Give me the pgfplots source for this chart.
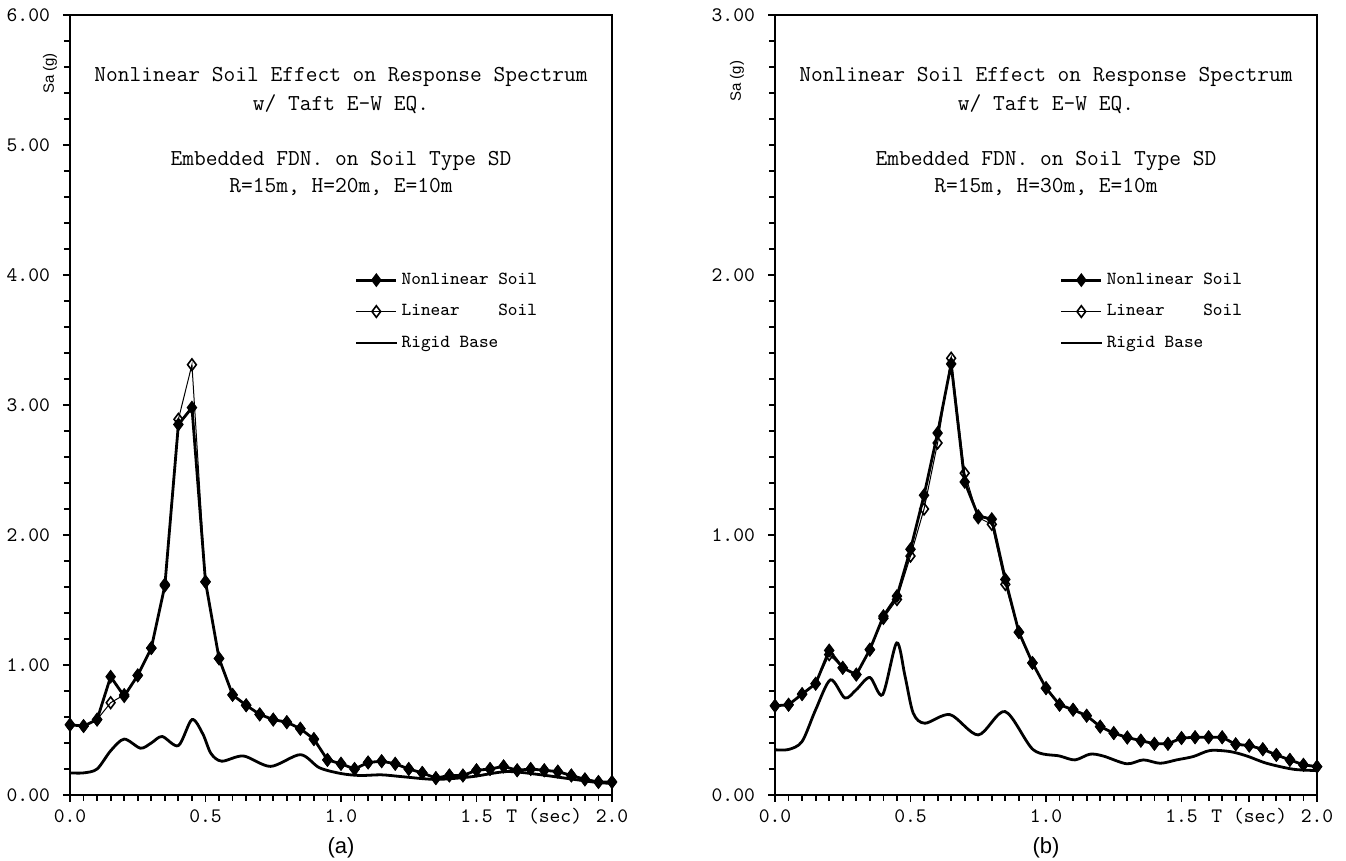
\documentclass[border=0pt]{standalone}
\usepackage{fontspec}
\newfontfamily\sansf{Liberation Sans}
\usepackage{pgfplots}
\pgfplotsset{compat=1.18}

\tikzset{
  nl/.style={black, line width=1.4pt, mark=diamond*, mark size=2.9pt,
    mark options={solid, fill=black, line width=0.8pt}},
  lin/.style={black, line width=0.5pt, mark=diamond, mark size=2.9pt,
    mark options={solid, fill=white, line width=0.8pt}},
  rb/.style={black, line width=1.4pt, smooth, mark=none},
}
\pgfplotsset{
  spec/.style={
    scale only axis, width=271pt, height=390pt,
    xmin=0, xmax=2, ymin=0,
    axis line style={line width=1.2pt},
    tick align=outside, tick pos=left,
    major tick length=3.5pt, minor tick length=3pt,
    every tick/.style={black, line width=0.9pt},
    xtick={0,0.5,1,1.5,1.75,2},
    xticklabels={0.0,0.5,1.0,1.5,T (sec),2.0},
    minor xtick={0,0.05,...,2.01},
    clip=false,
    tick label style={font=\ttfamily\fontsize{10.3}{11}\selectfont},
    xticklabel style={text height=1.6ex, text depth=0.4ex},
    yticklabel style={xshift=-3pt},
    legend image code/.code={\draw[mark repeat=2,mark phase=2,##1]
      plot coordinates {(0pt,0pt) (10pt,0pt) (20pt,0pt)};},
    legend style={draw=none, fill=none, at={(0.525,0.675)}, anchor=north west,
      font=\ttfamily\fontsize{9.2}{9.2}\selectfont, row sep=4.5pt, inner sep=0pt},
    legend cell align=left,
  }
}

\begin{document}
\begin{tikzpicture}
\path[use as bounding box] (0,0) rectangle (673pt,430.5pt);

% (a)
\begin{axis}[spec, at={(35pt,33pt)}, anchor=south west,
  ymax=6, ytick={0,1,2,3,4,5,6},
  yticklabels={0.00,1.00,2.00,3.00,4.00,5.00,6.00},
  minor y tick num=4]
\addlegendimage{nl}\addlegendentry{Nonlinear Soil}
\addlegendimage{lin}\addlegendentry{Linear\hphantom{xxxx}Soil}
\addlegendimage{rb}\addlegendentry{Rigid Base}
\addplot[lin, forget plot] coordinates {
(0.00,0.54)(0.05,0.53)(0.10,0.58)(0.15,0.71)(0.20,0.77)(0.25,0.92)(0.30,1.13)
(0.35,1.62)(0.40,2.89)(0.45,3.31)(0.50,1.64)(0.55,1.05)(0.60,0.77)(0.65,0.69)
(0.70,0.62)(0.75,0.58)(0.80,0.56)(0.85,0.51)(0.90,0.43)(0.95,0.27)(1.00,0.24)
(1.05,0.20)(1.10,0.25)(1.15,0.26)(1.20,0.24)(1.25,0.20)(1.30,0.17)(1.35,0.13)
(1.40,0.15)(1.45,0.15)(1.50,0.19)(1.55,0.20)(1.60,0.22)(1.65,0.19)(1.70,0.20)
(1.75,0.19)(1.80,0.18)(1.85,0.15)(1.90,0.12)(1.95,0.10)(2.00,0.10)};
\addplot[nl, forget plot] coordinates {
(0.00,0.54)(0.05,0.53)(0.10,0.58)(0.15,0.91)(0.20,0.76)(0.25,0.92)(0.30,1.13)
(0.35,1.61)(0.40,2.85)(0.45,2.98)(0.50,1.64)(0.55,1.05)(0.60,0.77)(0.65,0.69)
(0.70,0.62)(0.75,0.58)(0.80,0.56)(0.85,0.51)(0.90,0.43)(0.95,0.27)(1.00,0.24)
(1.05,0.20)(1.10,0.25)(1.15,0.26)(1.20,0.24)(1.25,0.20)(1.30,0.17)(1.35,0.13)
(1.40,0.15)(1.45,0.15)(1.50,0.19)(1.55,0.20)(1.60,0.22)(1.65,0.19)(1.70,0.20)
(1.75,0.19)(1.80,0.18)(1.85,0.15)(1.90,0.12)(1.95,0.10)(2.00,0.10)};
\addplot[rb, forget plot] coordinates {
(0.00,0.17)(0.05,0.17)(0.10,0.20)(0.15,0.34)(0.20,0.43)(0.26,0.36)(0.30,0.40)
(0.34,0.45)(0.40,0.38)(0.45,0.58)(0.49,0.47)(0.52,0.32)(0.56,0.26)(0.64,0.30)
(0.74,0.22)(0.85,0.31)(0.92,0.21)(1.00,0.165)(1.07,0.15)(1.15,0.155)(1.23,0.14)
(1.35,0.12)(1.48,0.14)(1.61,0.18)(1.72,0.16)(1.86,0.12)(1.95,0.095)(2.00,0.09)};
\node[font=\ttfamily\fontsize{11.4}{11.4}\selectfont] at (rel axis cs:0.5,0.921) {Nonlinear Soil Effect on Response Spectrum};
\node[font=\ttfamily\fontsize{11.4}{11.4}\selectfont] at (rel axis cs:0.5,0.886) {w/ Taft E-W EQ.};
\node[font=\ttfamily\fontsize{11.4}{11.4}\selectfont] at (rel axis cs:0.5,0.813) {Embedded FDN. on Soil Type SD};
\node[font=\ttfamily\fontsize{11.4}{11.4}\selectfont] at (rel axis cs:0.5,0.779) {R=15m, H=20m, E=10m};
\node[rotate=90, font=\sansf\fontsize{7.5}{7.5}\selectfont, yshift=10pt] at (rel axis cs:0,0.925) {Sa (g)};
\end{axis}

% (b)
\begin{axis}[spec, at={(387.5pt,33pt)}, anchor=south west,
  ymax=3, ytick={0,1,2,3},
  yticklabels={0.00,1.00,2.00,3.00},
  minor y tick num=9]
\addlegendimage{nl}\addlegendentry{Nonlinear Soil}
\addlegendimage{lin}\addlegendentry{Linear\hphantom{xxxx}Soil}
\addlegendimage{rb}\addlegendentry{Rigid Base}
\addplot[lin, forget plot] coordinates {
(0.00,0.343)(0.05,0.347)(0.10,0.388)(0.15,0.428)(0.20,0.540)(0.25,0.489)(0.30,0.463)
(0.35,0.559)(0.40,0.680)(0.45,0.752)(0.50,0.919)(0.55,1.100)(0.60,1.354)(0.65,1.680)
(0.70,1.238)(0.75,1.067)(0.80,1.041)(0.85,0.810)(0.90,0.626)(0.95,0.508)(1.00,0.411)
(1.05,0.347)(1.10,0.328)(1.15,0.305)(1.20,0.263)(1.25,0.238)(1.30,0.221)(1.35,0.209)
(1.40,0.197)(1.45,0.197)(1.50,0.219)(1.55,0.222)(1.60,0.222)(1.65,0.222)(1.70,0.195)
(1.75,0.190)(1.80,0.176)(1.85,0.154)(1.90,0.135)(1.95,0.116)(2.00,0.109)};
\addplot[nl, forget plot] coordinates {
(0.00,0.343)(0.05,0.347)(0.10,0.388)(0.15,0.428)(0.20,0.556)(0.25,0.489)(0.30,0.463)
(0.35,0.559)(0.40,0.688)(0.45,0.765)(0.50,0.945)(0.55,1.153)(0.60,1.392)(0.65,1.658)
(0.70,1.204)(0.75,1.073)(0.80,1.061)(0.85,0.829)(0.90,0.626)(0.95,0.508)(1.00,0.411)
(1.05,0.347)(1.10,0.328)(1.15,0.305)(1.20,0.263)(1.25,0.238)(1.30,0.221)(1.35,0.209)
(1.40,0.197)(1.45,0.197)(1.50,0.219)(1.55,0.222)(1.60,0.222)(1.65,0.222)(1.70,0.195)
(1.75,0.190)(1.80,0.176)(1.85,0.154)(1.90,0.135)(1.95,0.116)(2.00,0.109)};
\addplot[rb, forget plot] coordinates {
(0.00,0.174)(0.05,0.175)(0.10,0.206)(0.15,0.328)(0.205,0.443)(0.258,0.373)(0.30,0.405)
(0.35,0.452)(0.397,0.386)(0.449,0.585)(0.48,0.456)(0.51,0.315)(0.553,0.276)(0.646,0.309)
(0.75,0.231)(0.849,0.321)(0.953,0.174)(1.05,0.150)(1.107,0.135)(1.162,0.157)(1.211,0.150)
(1.298,0.120)(1.359,0.135)(1.421,0.122)(1.482,0.135)(1.544,0.148)(1.605,0.171)(1.679,0.167)
(1.741,0.150)(1.814,0.122)(1.913,0.099)(2.00,0.094)};
\node[font=\ttfamily\fontsize{11.4}{11.4}\selectfont] at (rel axis cs:0.5,0.921) {Nonlinear Soil Effect on Response Spectrum};
\node[font=\ttfamily\fontsize{11.4}{11.4}\selectfont] at (rel axis cs:0.5,0.886) {w/ Taft E-W EQ.};
\node[font=\ttfamily\fontsize{11.4}{11.4}\selectfont] at (rel axis cs:0.5,0.813) {Embedded FDN. on Soil Type SD};
\node[font=\ttfamily\fontsize{11.4}{11.4}\selectfont] at (rel axis cs:0.5,0.779) {R=15m, H=30m, E=10m};
\node[rotate=90, font=\sansf\fontsize{7.5}{7.5}\selectfont, yshift=19pt] at (rel axis cs:0,0.915) {Sa (g)};
\end{axis}

\node[font=\sansf\fontsize{11}{11}\selectfont] at (170.5pt,6.5pt) {(a)};
\node[font=\sansf\fontsize{11}{11}\selectfont] at (523pt,6.5pt) {(b)};
\end{tikzpicture}
\end{document}
